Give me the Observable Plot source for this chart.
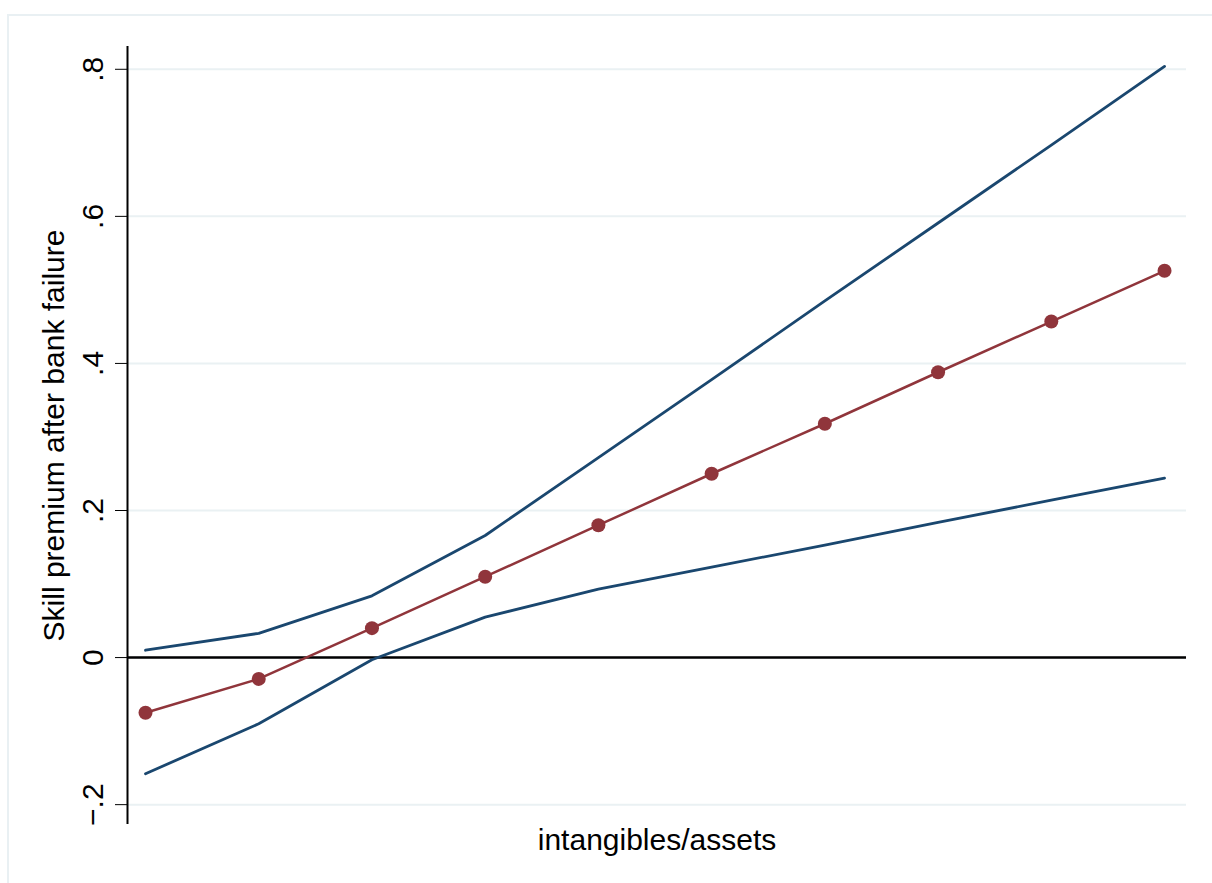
<!DOCTYPE html>
<html>
<head>
<meta charset="utf-8">
<script src="https://cdn.jsdelivr.net/npm/d3@7"></script>
<script src="https://cdn.jsdelivr.net/npm/@observablehq/plot@0.6"></script>
<style>
  html, body { margin: 0; padding: 0; background: #fff; }
  #wrap { position: relative; width: 1212px; height: 883px; }
  #border { position: absolute; left: 7px; top: 14px; right: -4px; bottom: -4px;
            border-left: 2px solid #e9f0f3; border-top: 2px solid #e9f0f3; pointer-events: none; z-index: 2; }
</style>
</head>
<body>
<div id="wrap"><div id="border"></div></div>
<script>
// Data
const xPos = [1, 2, 3, 4, 5, 6, 7, 8, 9, 10];
const estimate = [-0.075, -0.029, 0.040, 0.110, 0.180, 0.250, 0.318, 0.388, 0.457, 0.526];
const upperCI = [0.010, 0.033, 0.084, 0.166, 0.272, 0.378, 0.485, 0.591, 0.697, 0.804];
const lowerCI = [-0.158, -0.090, -0.003, 0.055, 0.093, 0.123, 0.153, 0.184, 0.214, 0.244];
const yTicks = [-0.2, 0, 0.2, 0.4, 0.6, 0.8];
const xLabel = "intangibles/assets";
const yLabel = "Skill premium after bank failure";

const est = xPos.map((x, i) => ({x, y: estimate[i]}));
const up = xPos.map((x, i) => ({x, y: upperCI[i]}));
const lo = xPos.map((x, i) => ({x, y: lowerCI[i]}));

const xDomain = [0.841, 10.194];
const fmt = d => d === 0 ? "0" : d3.format(".1f")(d).replace("0.", ".");

const chart = Plot.plot({
  width: 1212,
  height: 883,
  marginLeft: 127,
  marginRight: 26,
  marginTop: 46,
  marginBottom: 59,
  style: {background: "transparent", fontFamily: "'Liberation Sans', Arial, sans-serif", fontSize: "30px", color: "#000"},
  x: {domain: xDomain},
  y: {domain: [-0.227, 0.831]},
  marks: [
    Plot.gridY(yTicks, {stroke: "#eaf1f3", strokeOpacity: 1, strokeWidth: 2}),
    Plot.ruleX([xDomain[0]], {stroke: "#000", strokeWidth: 2}),
    Plot.axisY({ticks: yTicks, tickSize: 12, tickRotate: -90, tickFormat: fmt, tickPadding: 13, fontSize: 30,
                label: yLabel, labelAnchor: "center", labelOffset: 85, labelArrow: "none", stroke: "#000"}),
    Plot.axisX({ticks: [], tickSize: 0, label: xLabel, labelAnchor: "center", labelOffset: 25, labelArrow: "none", fontSize: 30}),
    Plot.ruleY([0], {stroke: "#000", strokeWidth: 2.5}),
    Plot.line(up, {x: "x", y: "y", stroke: "#1a476f", strokeWidth: 2.8}),
    Plot.line(lo, {x: "x", y: "y", stroke: "#1a476f", strokeWidth: 2.8}),
    Plot.line(est, {x: "x", y: "y", stroke: "#90353b", strokeWidth: 2.5}),
    Plot.dot(est, {x: "x", y: "y", r: 7, fill: "#90353b", stroke: "none"})
  ]
});
document.getElementById("wrap").appendChild(chart);
</script>
</body>
</html>
